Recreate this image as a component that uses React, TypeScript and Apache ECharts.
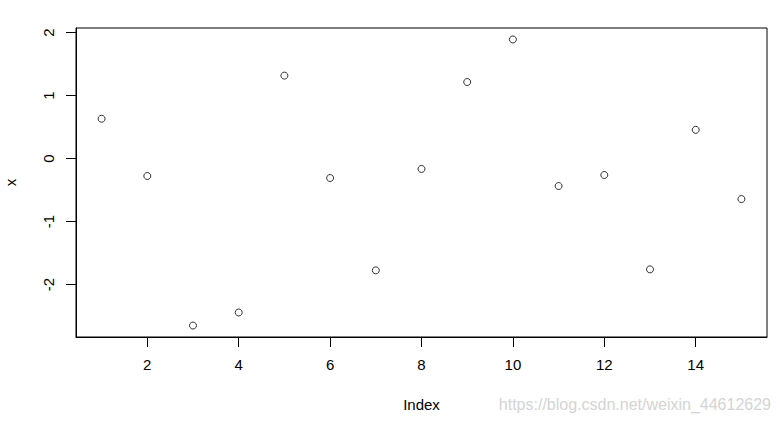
import React, { useEffect, useRef } from "react";
import * as echarts from "echarts";

const indexValues = [1, 2, 3, 4, 5, 6, 7, 8, 9, 10, 11, 12, 13, 14, 15];
const xValues = [0.633, -0.276, -2.65, -2.443, 1.318, -0.308, -1.774, -0.164, 1.216, 1.892, -0.435, -0.26, -1.758, 0.457, -0.642];
const xTicks = [2, 4, 6, 8, 10, 12, 14];
const yTicks = [-2, -1, 0, 1, 2];

export default function App() {
  const ref = useRef<HTMLDivElement>(null);
  useEffect(() => {
    if (!ref.current) return;
    const chart = echarts.init(ref.current, null, { renderer: "svg" });
    const font = "Liberation Sans, Arial, sans-serif";
    chart.setOption({
      animation: false,
      backgroundColor: "#ffffff",
      grid: {
        left: 76,
        right: 14,
        top: 28,
        bottom: 84,
        outerBoundsMode: "none",
        containLabel: false,
        show: true,
        borderColor: "#000",
        borderWidth: 1,
        backgroundColor: "transparent",
      },
      xAxis: {
        type: "value",
        min: 0.44,
        max: 15.56,
        name: "Index",
        nameLocation: "middle",
        nameGap: 60,
        nameTextStyle: { color: "#000", fontSize: 15, fontFamily: font },
        axisLine: { show: true, onZero: false, lineStyle: { color: "#000", width: 1 } },
        axisTick: { show: true, length: 10, customValues: xTicks, lineStyle: { color: "#000" } },
        axisLabel: { customValues: xTicks, color: "#000", fontSize: 15, fontFamily: font, margin: 20 },
        splitLine: { show: false },
      },
      yAxis: {
        type: "value",
        min: -2.832,
        max: 2.074,
        name: "x",
        nameLocation: "middle",
        nameGap: 58,
        nameRotate: 90,
        nameTextStyle: { color: "#000", fontSize: 15, fontFamily: font },
        axisLine: { show: true, onZero: false, lineStyle: { color: "#000", width: 1 } },
        axisTick: { show: true, length: 10, customValues: yTicks, lineStyle: { color: "#000" } },
        axisLabel: { customValues: yTicks, color: "#000", fontSize: 15, fontFamily: font, margin: 20, rotate: 90 },
        splitLine: { show: false },
      },
      graphic: [
        {
          type: "text",
          right: 10,
          top: 396,
          style: {
            text: "https://blog.csdn.net/weixin_44612629",
            fill: "#d4d4d4",
            font: "16px Liberation Sans, Arial, sans-serif",
          },
        },
      ],
      series: [
        {
          type: "scatter",
          data: indexValues.map((i, k) => [i, xValues[k]]),
          symbol: "circle",
          symbolSize: 7,
          itemStyle: { color: "#fff", borderColor: "#000", borderWidth: 1 },
        },
      ],
    });
    return () => chart.dispose();
  }, []);
  return (
    <div
      ref={ref}
      style={{ position: "fixed", left: 0, top: 0, width: 781, height: 421 }}
    />
  );
}
